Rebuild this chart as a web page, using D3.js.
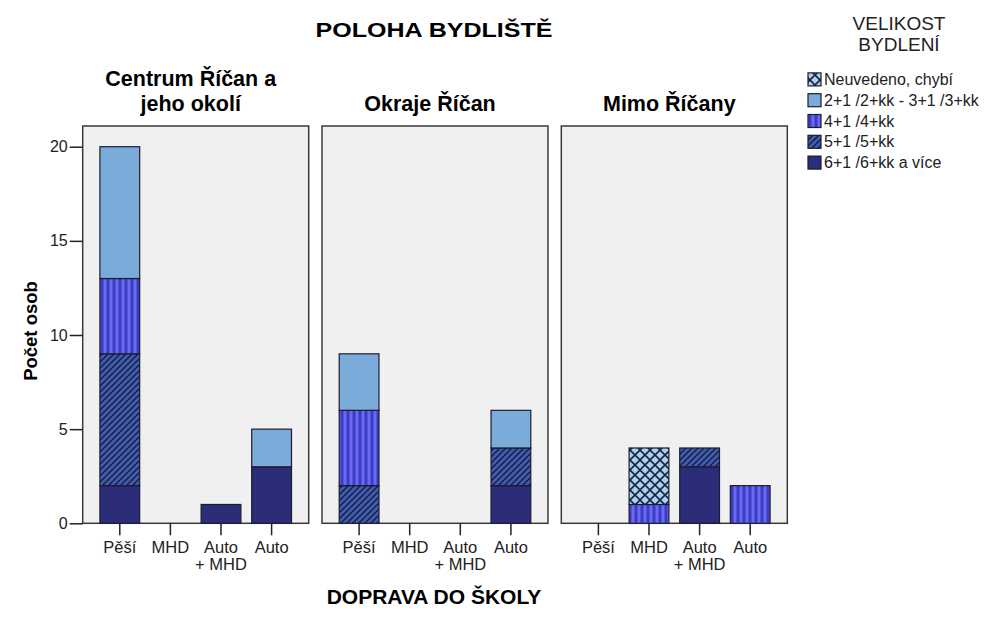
<!DOCTYPE html>
<html><head><meta charset="utf-8">
<script src="https://cdn.jsdelivr.net/npm/d3@7"></script>
<style>
body{margin:0;background:#fff;}
svg{display:block;font-family:Arial,"Liberation Sans",sans-serif;}
</style></head>
<body><svg id="c" width="995" height="630"></svg>
<script>
// ---- data ----
const panels = ["Centrum Říčan a|jeho okolí", "Okraje Říčan", "Mimo Říčany"];
const modes = ["Pěší", "MHD", "Auto|+ MHD", "Auto"];
const sizeKeys = ["s6", "s5", "s4", "s23", "na"];           // stack order bottom -> top
const sizeLabels = ["6+1 /6+kk a více", "5+1 /5+kk", "4+1 /4+kk", "2+1 /2+kk - 3+1 /3+kk", "Neuvedeno, chybí"];
const legendOrder = ["na", "s23", "s4", "s5", "s6"];
// values[panel][mode]
const vals6  = [[2,0,1,3],[0,0,0,2],[0,0,3,0]];
const vals5  = [[7,0,0,0],[2,0,0,2],[0,0,1,0]];
const vals4  = [[4,0,0,0],[4,0,0,0],[0,1,0,2]];
const vals23 = [[7,0,0,2],[3,0,0,2],[0,0,0,0]];
const valsNA = [[0,0,0,0],[0,0,0,0],[0,3,0,0]];
const yTicks = [0, 5, 10, 15, 20];
const yMax = 21.1;

const svg = d3.select("#c");
const defs = svg.append("defs");
// patterns
const p5 = defs.append("pattern").attr("id","p5").attr("patternUnits","userSpaceOnUse").attr("width",6).attr("height",6);
p5.append("rect").attr("width",6).attr("height",6).attr("fill","#3f5dab");
p5.append("path").attr("d","M-1,1 l2,-2 M0,6 l6,-6 M5,7 l2,-2").attr("stroke","#161a45").attr("stroke-width",1.4);
const p4 = defs.append("pattern").attr("id","p4").attr("patternUnits","userSpaceOnUse").attr("width",6).attr("height",6);
p4.append("rect").attr("width",6).attr("height",6).attr("fill","#3b3bc9");
p4.append("rect").attr("x",1.5).attr("width",3).attr("height",6).attr("fill","#6a6aec");
const pna = defs.append("pattern").attr("id","pna").attr("patternUnits","userSpaceOnUse").attr("width",10).attr("height",10);
pna.append("rect").attr("width",10).attr("height",10).attr("fill","#a9d0f0");
pna.append("path").attr("d","M0,0 L10,10 M10,0 L0,10").attr("stroke","#1a2340").attr("stroke-width",1.6);

const fills = {s6:"#2b2d78", s5:"url(#p5)", s4:"url(#p4)", s23:"#7aabd9", na:"url(#pna)"};
const series = {s6:vals6, s5:vals5, s4:vals4, s23:vals23, na:valsNA};

const plotTop = 126, plotBottom = 523.3;
const y = d3.scaleLinear().domain([0, yMax]).range([plotBottom, plotTop]);
const px = d3.scaleBand().domain(panels).range([82.7, 787.3]).paddingInner(0.0556).paddingOuter(0);

panels.forEach((pn, pi) => {
  const x0 = px(pn), w = px.bandwidth();
  const g = svg.append("g");
  g.append("rect").attr("x",x0).attr("y",plotTop).attr("width",w).attr("height",plotBottom-plotTop)
    .attr("fill","#f0f0f0").attr("stroke","#3a3a3a").attr("stroke-width",1.5);
  const x = d3.scaleBand().domain(modes).range([x0, x0+w]).paddingInner(0.214).paddingOuter(0.34);
  // bars
  modes.forEach((m, mi) => {
    let acc = 0;
    sizeKeys.forEach(k => {
      const v = series[k][pi][mi];
      if (v > 0) {
        g.append("rect").attr("x", x(m)).attr("width", x.bandwidth())
          .attr("y", y(acc+v)).attr("height", y(acc)-y(acc+v))
          .attr("fill", fills[k]).attr("stroke","#1c1c30").attr("stroke-width",1.2);
        acc += v;
      }
    });
  });
  // x axis
  const ax = g.append("g").attr("transform",`translate(0,${plotBottom})`)
    .call(d3.axisBottom(x).tickSize(12).tickPadding(4).tickFormat(""));
  ax.select(".domain").remove();
  ax.selectAll(".tick line").attr("stroke","#222").attr("stroke-width",1.5);
  ax.selectAll(".tick").each(function(d){
    const t = d3.select(this).append("text").attr("fill","#222").attr("font-size",16.5)
      .attr("text-anchor","middle");
    d.split("|").forEach((s,i)=>t.append("tspan").attr("x",0).attr("y", 30 + i*17).text(s));
  });
  // panel title
  const lines = pn.split("|");
  const tt = svg.append("text").attr("text-anchor","middle").attr("font-weight","bold")
    .attr("font-size",21.5).attr("fill","#000");
  lines.forEach((s,i)=>tt.append("tspan").attr("x", x0 + w/2 - 5).attr("y", 111 - (lines.length-1-i)*25).text(s));
});

// y axis
const yax = svg.append("g").attr("transform",`translate(${px(panels[0])},0)`)
  .call(d3.axisLeft(y).tickValues(yTicks).tickSize(13).tickPadding(2));
yax.select(".domain").remove();
yax.selectAll(".tick line").attr("stroke","#222").attr("stroke-width",1.5);
yax.selectAll(".tick text").attr("font-size",16).attr("fill","#222").attr("font-family","Arial, Liberation Sans, sans-serif");

svg.append("text").attr("transform","translate(37,331) rotate(-90)").attr("text-anchor","middle")
  .attr("font-weight","bold").attr("font-size",18.5).text("Počet osob");

svg.append("text").attr("x",434).attr("y",37).attr("text-anchor","middle").attr("font-weight","bold")
  .attr("font-size",21).attr("textLength",237).attr("lengthAdjust","spacingAndGlyphs").text("POLOHA BYDLIŠTĚ");
svg.append("text").attr("x",434).attr("y",604).attr("text-anchor","middle").attr("font-weight","bold")
  .attr("font-size",21).text("DOPRAVA DO ŠKOLY");

// legend
svg.append("text").attr("x",899).attr("y",30).attr("text-anchor","middle").attr("font-size",19).attr("fill","#222").text("VELIKOST");
svg.append("text").attr("x",899).attr("y",51).attr("text-anchor","middle").attr("font-size",19).attr("fill","#222").text("BYDLENÍ");
const ly = d3.scaleBand().domain(legendOrder).range([69, 173]);
legendOrder.forEach(k => {
  const i = sizeKeys.indexOf(k);
  const yy = ly(k) + ly.bandwidth()/2;
  svg.append("rect").attr("x",808).attr("y",yy-6.5).attr("width",13).attr("height",13)
    .attr("fill",fills[k]).attr("stroke","#1c1c30").attr("stroke-width",1.2);
  svg.append("text").attr("x",824).attr("y",yy+5.5).attr("font-size",16).attr("fill","#222").text(sizeLabels[i]);
});
</script></body></html>
